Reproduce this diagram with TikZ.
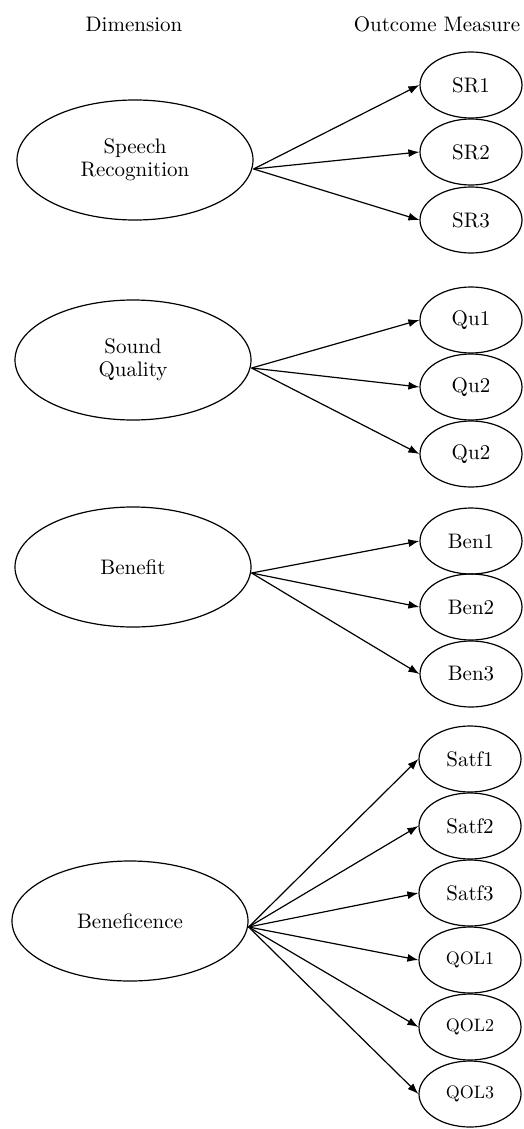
\documentclass[tikz,border=0pt]{standalone}
\usepackage{fontspec}
\setmainfont{lmroman10-regular}[Extension=.otf]
\usetikzlibrary{shapes.geometric,arrows.meta}
\begin{document}
\begin{tikzpicture}[x=1pt,y=-1pt,
  txt/.style={font=\fontsize{21}{25}\selectfont},
  small/.style={font=\fontsize{18}{21}\selectfont},
  bigell/.style={ellipse,draw,line width=1.2pt,minimum width=236pt,minimum height=120pt,inner sep=0pt,align=center,txt},
  smell/.style={ellipse,draw,line width=1.2pt,minimum width=102pt,minimum height=66pt,inner sep=0pt,txt},
  arr/.style={-{Latex[length=11pt,width=8pt]},line width=1.2pt}]
\useasboundingbox (0,0) rectangle (523,1129);
\fill[white] (0,0) rectangle (523,1129);
% headers
\node[txt,anchor=base] (hdim) at (134,32) {Dimension};
\node[txt,anchor=base] (hout) at (437,32) {Outcome Measure};
% dimensions
\node[bigell] (sp) at (135,160) {Speech\\[-2pt]Recognition};
\node[bigell] (sq) at (133,360) {Sound\\[-2pt]Quality};
\node[bigell] (be) at (133,567) {Benefit};
\node[bigell] (bc) at (130,921) {Beneficence};
% outcome measures
\node[smell] (sr1) at (471,85) {SR1};
\node[smell] (sr2) at (471,152) {SR2};
\node[smell] (sr3) at (471,220) {SR3};
\node[smell] (qu1) at (471,320) {Qu1};
\node[smell] (qu2) at (471,387) {Qu2};
\node[smell] (qu3) at (471,454) {Qu2};
\node[smell] (bn1) at (471,541) {Ben1};
\node[smell] (bn2) at (471,607) {Ben2};
\node[smell] (bn3) at (471,674) {Ben3};
\node[smell] (sa1) at (470,759) {Satf1};
\node[smell] (sa2) at (470,826) {Satf2};
\node[smell] (sa3) at (470,893) {Satf3};
\node[smell,small] (ql1) at (470,960) {QOL1};
\node[smell,small] (ql2) at (470,1027) {QOL2};
\node[smell,small] (ql3) at (470,1094) {QOL3};
% connectors
\foreach \t in {sr1,sr2,sr3} \draw[arr] ([yshift=-9pt]sp.east) -- (\t.west);
\foreach \t in {qu1,qu2,qu3} \draw[arr] ([yshift=-8pt]sq.east) -- (\t.west);
\foreach \t in {bn1,bn2,bn3} \draw[arr] ([yshift=-6pt]be.east) -- (\t.west);
\foreach \t in {sa1,sa2,sa3,ql1,ql2,ql3} \draw[arr] ([yshift=-6pt]bc.east) -- (\t.west);
\end{tikzpicture}
\end{document}
